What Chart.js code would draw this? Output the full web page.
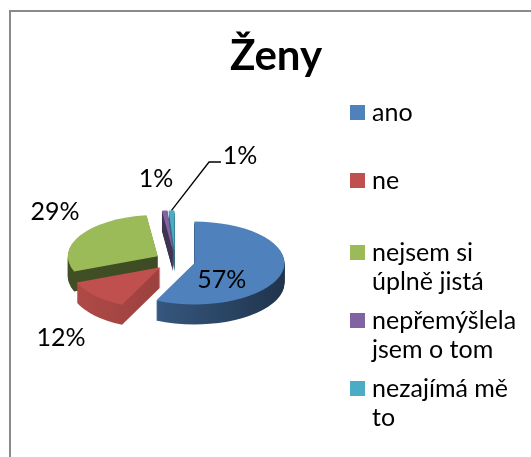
<!DOCTYPE html>
<html><head><meta charset="utf-8">
<script src="https://cdn.jsdelivr.net/npm/chart.js@4/dist/chart.umd.min.js"></script>
<style>
html,body{margin:0;padding:0;background:#fff;}
#wrap{position:relative;width:531px;height:457px;overflow:hidden;font-family:Lato,"Open Sans",sans-serif;color:#000;}
#frame{position:absolute;left:9px;top:10px;width:700px;height:700px;border:2px solid #8a8a8a;box-sizing:border-box;}
#c{position:absolute;left:0;top:0;}
#title{position:absolute;left:176px;width:200px;top:33px;text-align:center;font-weight:700;font-size:42px;line-height:42px;}
.li{position:absolute;left:350px;font-size:25px;line-height:29px;}
.sw{position:absolute;left:0;top:8px;width:15px;height:15px;}
.tx{position:absolute;left:22px;top:0;white-space:nowrap;}
</style></head>
<body>
<div id="wrap">
  <div id="frame"></div>
  <canvas id="c" width="531" height="457"></canvas>
  <div id="title">Ženy</div>
  <div id="legend"></div>
</div>
<script>
// ---- data ----
const categories = [['ano'], ['ne'], ['nejsem si', 'úplně jistá'], ['nepřemýšlela', 'jsem o tom'], ['nezajímá mě', 'to']];
const values = [57, 12, 29, 1, 1];
const colors = ['#4f81bd', '#c0504d', '#9bbb59', '#8064a2', '#4bacc6'];

// ---- style / layout ----
const K = 0.46, DEPTH = 20, EXPLODE = 20, RADIUS = 90;
const sideShade = [[0.78, 0.40], [0.92, 0.70], [0.42, 0.38], [0.55, 0.45], [0.70, 0.55]];
const labelPlace = [[0.3, 1, 13], [1.3, -14, 33], [1.3, -2, -18], [1.3, -6, -20], [1.0, 68.5, -55.4]];
const leader = [false, false, false, false, true];
const legendTops = [97, 165, 237, 305, 373];

function shade(hex, f) {
  const n = parseInt(hex.slice(1), 16);
  const r = Math.round(((n >> 16) & 255) * f), g = Math.round(((n >> 8) & 255) * f), b = Math.round((n & 255) * f);
  return 'rgb(' + r + ',' + g + ',' + b + ')';
}
function squash(ctx, cx, cy) { ctx.translate(cx, cy); ctx.scale(1, K); ctx.translate(-cx, -cy); }
function center(chart) { const a = chart.chartArea; return [(a.left + a.right) / 2, (a.top + a.bottom) / 2]; }
const midA = a => (a.startAngle + a.endAngle) / 2;

const pie3d = {
  id: 'pie3d',
  beforeDatasetsDraw(chart) {
    const ctx = chart.ctx, meta = chart.getDatasetMeta(0);
    const [cx, cy] = center(chart);
    meta.data.forEach(arc => { const m = midA(arc); arc.x = cx + Math.cos(m) * EXPLODE; arc.y = cy + Math.sin(m) * EXPLODE; });
    const order = meta.data.map((a, i) => i).sort((a, b) => Math.sin(midA(meta.data[a])) - Math.sin(midA(meta.data[b])));
    for (const i of order) {
      const arc = meta.data[i], R = arc.outerRadius;
      const g = ctx.createLinearGradient(arc.x - R, 0, arc.x + R, 0);
      g.addColorStop(0, shade(colors[i], sideShade[i][0]));
      g.addColorStop(1, shade(colors[i], sideShade[i][1]));
      const fake = Object.create(arc);
      fake.options = Object.assign({}, arc.options, { backgroundColor: g, borderWidth: 0, offset: 0 });
      for (let d = DEPTH; d >= 1; d--) {
        ctx.save(); ctx.translate(0, d); squash(ctx, cx, cy); arc.draw.call(fake, ctx); ctx.restore();
      }
    }
    ctx.save(); squash(ctx, cx, cy);
  },
  afterDatasetsDraw(chart) { chart.ctx.restore(); },
  afterDraw(chart) {
    const ctx = chart.ctx, meta = chart.getDatasetMeta(0);
    const [cx, cy] = center(chart);
    const total = values.reduce((s, v) => s + v, 0);
    ctx.save();
    ctx.font = '25px Lato, "Open Sans", sans-serif';
    ctx.fillStyle = '#000'; ctx.strokeStyle = '#000'; ctx.lineWidth = 1.3;
    ctx.textAlign = 'center'; ctx.textBaseline = 'alphabetic';
    meta.data.forEach((arc, i) => {
      const m = midA(arc), [f, dx, dy] = labelPlace[i];
      const ux = arc.x + Math.cos(m) * arc.outerRadius * f;
      const uy = arc.y + Math.sin(m) * arc.outerRadius * f;
      const bx = ux, by = cy + (uy - cy) * K;
      const lx = bx + dx, ly = by + dy;
      if (leader[i]) {
        ctx.beginPath(); ctx.moveTo(bx, by); ctx.lineTo(lx - 31, ly + 7); ctx.lineTo(lx - 19, ly + 7); ctx.stroke();
      }
      ctx.fillText(Math.round(values[i] / total * 100) + '%', lx, ly + 9);
    });
    ctx.restore();
  }
};

new Chart(document.getElementById('c'), {
  type: 'pie',
  data: {
    labels: categories,
    datasets: [{ data: values, backgroundColor: colors, borderWidth: 0, radius: RADIUS, clip: false, hoverOffset: 0 }]
  },
  options: {
    responsive: false, animation: false, devicePixelRatio: 1,
    layout: { padding: { left: 0, right: 181, top: 100, bottom: 35 } },
    events: [],
    plugins: { legend: { display: false }, title: { display: false }, tooltip: { enabled: false } }
  },
  plugins: [pie3d]
});

// legend as real text
const lg = document.getElementById('legend');
categories.forEach((lines, i) => {
  const d = document.createElement('div'); d.className = 'li'; d.style.top = legendTops[i] + 'px';
  const s = document.createElement('div'); s.className = 'sw'; s.style.background = colors[i];
  const t = document.createElement('div'); t.className = 'tx'; t.innerHTML = lines.join('<br>');
  d.appendChild(s); d.appendChild(t); lg.appendChild(d);
});
</script>
</body></html>
